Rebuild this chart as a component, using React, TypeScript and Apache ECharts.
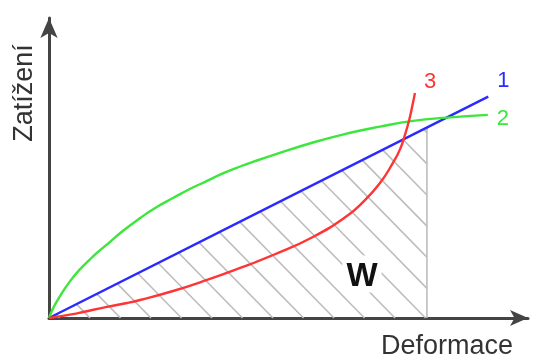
import React, { useEffect, useRef } from "react";
import * as echarts from "echarts";

// Deformation (x) vs load (y), both on a 0–100 relative scale
const linearLoad: [number, number][] = [
  [0, 0],
  [91.7, 73.8],
];

const softeningLoad: [number, number][] = [
  [0, 0], [1.0, 3.7], [2.3, 7.3], [4.4, 12.3], [6.5, 16.3], [8.4, 19.3],
  [10.0, 21.7], [12.7, 25.3], [15.4, 29.0], [19.0, 33.3], [22.5, 37.0],
  [25.9, 40.0], [29.4, 43.0], [33.0, 45.7], [36.3, 48.2], [39.9, 50.5],
  [43.4, 52.5], [46.8, 54.3], [55.1, 58.5], [62.2, 61.5], [69.1, 63.8],
  [76.0, 65.7], [83.1, 66.8], [91.6, 67.7],
];

const stiffeningLoad: [number, number][] = [
  [0, 0], [5.0, 1.3], [7.1, 2.0], [12.1, 3.7], [16.3, 5.0], [19.0, 6.0],
  [25.9, 9.0], [33.0, 12.7], [39.9, 16.7], [46.8, 21.0], [55.1, 27.0],
  [62.2, 34.0], [65.6, 38.7], [69.1, 45.0], [71.8, 51.7], [73.3, 56.3],
  [74.3, 61.0], [75.2, 66.0], [75.8, 70.3], [76.4, 75.0],
];

const seriesLabels = ["1", "2", "3"];
const seriesColors = ["#2a2aff", "#3ce63c", "#ff3434"];
const workLimit = 78.9; // deformation where the hatched work area ends
const xAxisTitle = "Deformace";
const yAxisTitle = "Zatížení";
const areaLabel = "W";

// hatch pattern style (pixels)
const HATCH_GAP = 30.5;
const HATCH_PHASE = 10.5;
const HATCH_SLOPE = 1.02;
const FONT = '"Liberation Sans", Arial, sans-serif';

export default function App() {
  const ref = useRef<HTMLDivElement>(null);

  useEffect(() => {
    if (!ref.current) return;
    const chart = echarts.init(ref.current, null, { renderer: "svg" });
    const blueEnd = linearLoad[linearLoad.length - 1];
    const topAtLimit = (blueEnd[1] * workLimit) / blueEnd[0];

    const lineSeries = [linearLoad, softeningLoad, stiffeningLoad].map(
      (data, i) => ({
        type: "line",
        name: seriesLabels[i],
        data,
        showSymbol: false,
        symbol: "none",
        smooth: 0.5,
        z: 3,
        lineStyle: { color: seriesColors[i], width: 2.4 },
        endLabel: {
          show: true,
          formatter: seriesLabels[i],
          color: seriesColors[i],
          fontSize: 22,
          fontFamily: FONT,
          distance: 9,
          offset: i === 0 ? [0, -17] : i === 1 ? [0, 3] : [0, -13],
        },
      })
    );

    chart.setOption({
      animation: false,
      grid: { left: 49, right: 12, top: 18, bottom: 42 },
      xAxis: {
        type: "value",
        min: 0,
        max: 100,
        axisLine: {
          show: true,
          symbol: ["none", "arrow"],
          symbolSize: [12, 18],
          lineStyle: { color: "#444", width: 3 },
        },
        axisTick: { show: false },
        axisLabel: { show: false },
        splitLine: { show: false },
      },
      yAxis: {
        type: "value",
        min: 0,
        max: 100,
        axisLine: {
          show: true,
          symbol: ["none", "arrow"],
          symbolSize: [13, 20],
          lineStyle: { color: "#444", width: 3 },
        },
        axisTick: { show: false },
        axisLabel: { show: false },
        splitLine: { show: false },
      },
      series: [
        {
          type: "custom",
          z: 1,
          silent: true,
          encode: { x: 0, y: 1 },
          data: [[workLimit, topAtLimit]],
          renderItem: (_params: any, api: any) => {
            const xEnd = api.value(0) as number;
            const yTop = api.value(1) as number;
            const o = api.coord([0, 0]);
            const br = api.coord([xEnd, 0]);
            const tr = api.coord([xEnd, yTop]);
            const m = (o[1] - tr[1]) / (tr[0] - o[0]);
            const style = { stroke: "#bdbdbd", lineWidth: 1.6 };
            const children: any[] = [];
            for (let bx = o[0] + HATCH_PHASE; bx < 2000; bx += HATCH_GAP) {
              const xi = (m * o[0] + HATCH_SLOPE * bx) / (m + HATCH_SLOPE);
              if (xi >= br[0]) break;
              const yi = o[1] - m * (xi - o[0]);
              let x2: number, y2: number;
              if (bx <= br[0]) {
                x2 = bx;
                y2 = o[1];
              } else {
                x2 = br[0];
                y2 = o[1] - HATCH_SLOPE * (bx - br[0]);
              }
              children.push({
                type: "line",
                shape: { x1: xi, y1: yi, x2, y2 },
                style,
              });
            }
            children.push({
              type: "line",
              shape: { x1: tr[0], y1: tr[1], x2: br[0], y2: br[1] },
              style,
            });
            return { type: "group", children };
          },
        },
        ...lineSeries,
      ],
      graphic: [
        {
          type: "text",
          x: 23,
          y: 93,
          rotation: Math.PI / 2,
          style: {
            text: yAxisTitle,
            font: `27px ${FONT}`,
            fill: "#333",
            align: "center",
            verticalAlign: "middle",
          },
        },
        {
          type: "text",
          x: 447,
          y: 345,
          style: {
            text: xAxisTitle,
            font: `27px ${FONT}`,
            fill: "#333",
            align: "center",
            verticalAlign: "middle",
          },
        },
        {
          type: "text",
          x: 362,
          y: 274,
          z: 10,
          style: {
            text: areaLabel,
            font: `bold 33px ${FONT}`,
            fill: "#111",
            align: "center",
            verticalAlign: "middle",
            backgroundColor: "#fff",
            padding: [2, 4],
          },
        },
      ],
    });

    return () => chart.dispose();
  }, []);

  return (
    <div
      ref={ref}
      style={{ position: "fixed", left: 0, top: 0, width: 540, height: 360 }}
    />
  );
}
